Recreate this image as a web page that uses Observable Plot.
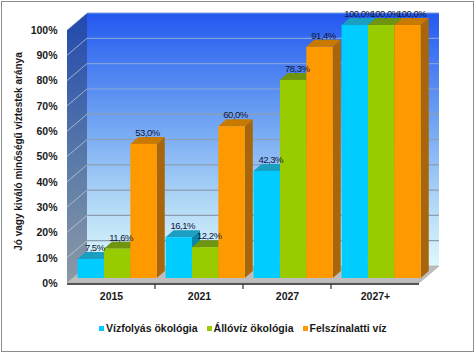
<!DOCTYPE html>
<html>
<head>
<meta charset="utf-8">
<script src="https://cdn.jsdelivr.net/npm/d3@7"></script>
<script src="https://cdn.jsdelivr.net/npm/@observablehq/plot@0.6"></script>
<style>
  body { margin: 0; background: #fff; }
  #wrap { position: relative; width: 476px; height: 355px; overflow: hidden; font-family: "Liberation Sans", Arial, sans-serif; }
  #wrap svg { position: absolute; left: 0; top: 0; }
  #border { position: absolute; left: 1px; top: 1px; width: 471px; height: 349px; border: 1.5px solid #8c8c8c; pointer-events: none; }
  #legend { position: absolute; left: 99px; top: 322px; display: flex; gap: 9px; font-size: 10.5px; font-weight: bold; color: #1a1a1a; white-space: nowrap; }
  #legend span.sw { display: inline-block; width: 5px; height: 5px; margin-right: 2px; vertical-align: 1px; }
</style>
</head>
<body>
<div id="wrap"><div id="legend"></div><div id="border"></div></div>
<script>
const years = ["2015", "2021", "2027", "2027+"];
const seriesNames = ["Vízfolyás ökológia", "Állóvíz ökológia", "Felszínalatti víz"];
const vizfolyas = [7.5, 16.1, 42.3, 100.0];
const alloviz = [11.6, 12.2, 78.3, 100.0];
const felszinalatti = [53.0, 60.0, 91.4, 100.0];
const yTicks = [0, 10, 20, 30, 40, 50, 60, 70, 80, 90, 100];
const yTitle = "Jó vagy kiváló minőségű víztestek aránya";

const frontColors = ["#00ccff", "#99cc00", "#ff9900"];
const topColors = ["#1a9fc2", "#6f9410", "#c87a00"];
const sideColors = ["#0a86a8", "#5e7e08", "#a9650a"];

const seriesValues = [vizfolyas, alloviz, felszinalatti];
const data = [];
years.forEach((year, i) => seriesValues.forEach((vals, s) => data.push({year, s, value: vals[i]})));

const fmt = v => v.toFixed(1).replace(".", ",") + "%";

// 3D depth offsets (pixels)
const wallDX = 20, wallDY = -17;
const barShiftX = 0.12, barShiftY = -5, barDX = 8, barDY = -7;

function bandInfo(scales, dims) {
  const x = scales.x;
  let bw = x && x.bandwidth ? x.bandwidth() : (dims.width - dims.marginLeft - dims.marginRight) / years.length;
  return {x, bw};
}

function walls(index, scales, values, dims) {
  const y = scales.y;
  const xl = dims.marginLeft, xr = dims.width - dims.marginRight;
  const y0 = y(0), y100 = y(100);
  const g = d3.create("svg:g");
  const defs = g.append("defs");
  const bg = defs.append("linearGradient").attr("id", "backGrad").attr("x1", 0).attr("y1", 0).attr("x2", 0).attr("y2", 1);
  bg.append("stop").attr("offset", "0%").attr("stop-color", "#2358f0");
  bg.append("stop").attr("offset", "40%").attr("stop-color", "#6a9ff3");
  bg.append("stop").attr("offset", "75%").attr("stop-color", "#b0d8f6");
  bg.append("stop").attr("offset", "100%").attr("stop-color", "#def8fc");
  const lg = defs.append("linearGradient").attr("id", "leftGrad").attr("x1", 0).attr("y1", 0).attr("x2", 0).attr("y2", 1);
  lg.append("stop").attr("offset", "0%").attr("stop-color", "#2148ad");
  lg.append("stop").attr("offset", "55%").attr("stop-color", "#5a7aa8");
  lg.append("stop").attr("offset", "100%").attr("stop-color", "#8d9aa6");
  // back wall
  g.append("rect").attr("x", xl + wallDX).attr("y", y100 + wallDY).attr("width", xr - xl)
    .attr("height", y0 - y100).attr("fill", "url(#backGrad)");
  // left wall
  g.append("path").attr("d", `M${xl},${y0}L${xl},${y100}L${xl + wallDX},${y100 + wallDY}L${xl + wallDX},${y0 + wallDY}Z`)
    .attr("fill", "url(#leftGrad)");
  // gridlines
  yTicks.forEach(t => {
    if (t === 0) return;
    const yy = y(t);
    g.append("line").attr("x1", xl + wallDX).attr("x2", xr + wallDX).attr("y1", yy + wallDY).attr("y2", yy + wallDY)
      .attr("stroke", t >= 70 ? "#7ea0dc" : "#8d9db0").attr("stroke-width", 1.2);
    g.append("line").attr("x1", xl).attr("x2", xl + wallDX).attr("y1", yy).attr("y2", yy + wallDY)
      .attr("stroke", "#c8d4e4").attr("stroke-opacity", 0.7).attr("stroke-width", 1);
  });
  // floor
  g.append("path").attr("d", `M${xl},${y0}L${xl + wallDX},${y0 + wallDY}L${xr + wallDX},${y0 + wallDY}L${xr},${y0}Z`)
    .attr("fill", "#bdbdbd").attr("stroke", "#a8a8a8").attr("stroke-width", 0.6);
  // floor front edge
  g.append("line").attr("x1", xl).attr("x2", xr).attr("y1", y0 + 1).attr("y2", y0 + 1)
    .attr("stroke", "#555").attr("stroke-width", 2);
  // category boundary ticks
  const {x, bw} = bandInfo(scales, dims);
  years.slice(1).forEach(yr => {
    const xx = x(yr);
    g.append("line").attr("x1", xx).attr("x2", xx).attr("y1", y0 + 1).attr("y2", y0 + 6)
      .attr("stroke", "#333").attr("stroke-width", 1.2);
  });
  // y axis title
  g.append("text").attr("transform", `translate(22,${(y0 + y100) / 2 - 5}) rotate(-90)`)
    .attr("text-anchor", "middle").attr("font-size", 10).attr("font-weight", "bold")
    .attr("fill", "#1a1a1a").text(yTitle);
  return g.node();
}

function bars(index, scales, values, dims) {
  const y = scales.y;
  const {x, bw} = bandInfo(scales, dims);
  const w = bw * 0.3;
  const g = d3.create("svg:g");
  const labels = [];
  data.forEach(d => {
    const bx = x(d.year) + bw * barShiftX + d.s * w;
    const top = y(d.value) + barShiftY;
    const bot = y(0) + barShiftY;
    g.append("path").attr("d", `M${bx + w},${top}L${bx + w + barDX},${top + barDY}L${bx + w + barDX},${bot + barDY}L${bx + w},${bot}Z`)
      .attr("fill", sideColors[d.s]);
    g.append("path").attr("d", `M${bx},${top}L${bx + barDX},${top + barDY}L${bx + w + barDX},${top + barDY}L${bx + w},${top}Z`)
      .attr("fill", topColors[d.s]);
    g.append("rect").attr("x", bx).attr("y", top).attr("width", w).attr("height", bot - top)
      .attr("fill", frontColors[d.s]);
    labels.push({x: bx + w / 2 + barDX / 2, y: top + barDY - 1, t: fmt(d.value)});
  });
  labels.forEach(l => {
    g.append("text").attr("x", l.x).attr("y", l.y).attr("text-anchor", "middle")
      .attr("font-size", 9.5).attr("font-weight", "normal").attr("letter-spacing", "-0.5px")
      .attr("fill", "#10163a").text(l.t);
  });
  return g.node();
}

const chart = Plot.plot({
  width: 476,
  height: 310,
  marginLeft: 67,
  marginRight: 57,
  marginTop: 30,
  marginBottom: 27,
  style: {fontFamily: "'Liberation Sans', Arial, sans-serif", fontSize: "10.5px", fontWeight: "bold", color: "#1a1a1a", background: "transparent"},
  x: {type: "band", domain: years, padding: 0, tickSize: 0, tickPadding: 9, label: null},
  y: {domain: [0, 100], ticks: yTicks, tickFormat: d => d + "%", tickSize: 0, tickPadding: 10, label: null},
  marks: [
    walls,
    bars
  ]
});

const wrap = document.getElementById("wrap");
wrap.insertBefore(chart, wrap.firstChild);

const legend = document.getElementById("legend");
seriesNames.forEach((name, i) => {
  const item = document.createElement("div");
  item.innerHTML = `<span class="sw" style="background:${frontColors[i]}"></span>${name}`;
  legend.appendChild(item);
});
</script>
</body>
</html>
